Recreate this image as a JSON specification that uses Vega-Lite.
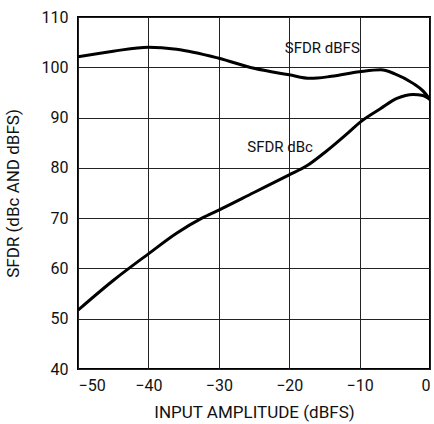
{
  "$schema": "https://vega.github.io/schema/vega-lite/v6.json",
  "width": 352,
  "height": 352,
  "autosize": "none",
  "padding": {"left": 78, "top": 17, "right": 4, "bottom": 55},
  "background": "white",
  "config": {
    "font": "Roboto",
    "view": {"stroke": "#000", "strokeWidth": 2},
    "axis": {
      "domain": false,
      "ticks": false,
      "grid": true,
      "gridColor": "#222",
      "gridWidth": 1,
      "gridOpacity": 1,
      "labelFont": "Roboto",
      "titleFont": "Roboto",
      "labelFontSize": 16,
      "titleFontSize": 17,
      "labelColor": "#111",
      "titleColor": "#111",
      "titleFontWeight": "normal"
    }
  },
  "datasets": {
    "curves": [
      {"series": "dBFS", "x": -50, "y": 102.1},
      {"series": "dBFS", "x": -45, "y": 103.2},
      {"series": "dBFS", "x": -40, "y": 104.0},
      {"series": "dBFS", "x": -36, "y": 103.6},
      {"series": "dBFS", "x": -30, "y": 101.8},
      {"series": "dBFS", "x": -25, "y": 99.8},
      {"series": "dBFS", "x": -20, "y": 98.5},
      {"series": "dBFS", "x": -17, "y": 97.8},
      {"series": "dBFS", "x": -14, "y": 98.2},
      {"series": "dBFS", "x": -10, "y": 99.1},
      {"series": "dBFS", "x": -7, "y": 99.5},
      {"series": "dBFS", "x": -5, "y": 98.7},
      {"series": "dBFS", "x": -2.4, "y": 96.8},
      {"series": "dBFS", "x": -1, "y": 95.3},
      {"series": "dBFS", "x": 0, "y": 93.6},
      {"series": "dBc", "x": -50, "y": 51.7},
      {"series": "dBc", "x": -45, "y": 57.6},
      {"series": "dBc", "x": -40, "y": 62.9},
      {"series": "dBc", "x": -36, "y": 67.0},
      {"series": "dBc", "x": -32.4, "y": 70.0},
      {"series": "dBc", "x": -30, "y": 71.6},
      {"series": "dBc", "x": -25, "y": 75.1},
      {"series": "dBc", "x": -20, "y": 78.6},
      {"series": "dBc", "x": -17.5, "y": 80.4},
      {"series": "dBc", "x": -15, "y": 83.0},
      {"series": "dBc", "x": -11.6, "y": 87.0},
      {"series": "dBc", "x": -10, "y": 89.0},
      {"series": "dBc", "x": -7, "y": 91.8},
      {"series": "dBc", "x": -4.7, "y": 93.8},
      {"series": "dBc", "x": -2.4, "y": 94.6},
      {"series": "dBc", "x": -1, "y": 94.4},
      {"series": "dBc", "x": 0, "y": 93.6}
    ],
    "labels": [
      {"x": -15.3, "y": 103.8, "text": "SFDR dBFS"},
      {"x": -21.3, "y": 84.2, "text": "SFDR dBc"}
    ]
  },
  "layer": [
    {
      "data": {"name": "curves"},
      "mark": {"type": "line", "interpolate": "monotone", "color": "#000", "strokeWidth": 3, "clip": true},
      "encoding": {
        "x": {
          "field": "x", "type": "quantitative",
          "scale": {"domain": [-50, 0], "nice": false},
          "axis": {"values": [-50, -40, -30, -20, -10, 0], "labelExpr": "replace(datum.label, '-', '–')", "labelPadding": 8, "title": "INPUT AMPLITUDE (dBFS)", "titlePadding": 11}
        },
        "y": {
          "field": "y", "type": "quantitative",
          "scale": {"domain": [40, 110], "nice": false, "zero": false},
          "axis": {"values": [40, 50, 60, 70, 80, 90, 100, 110], "labelPadding": 10, "title": "SFDR (dBc AND dBFS)", "titlePadding": 19}
        },
        "detail": {"field": "series"}
      }
    },
    {
      "data": {"name": "labels"},
      "mark": {"type": "text", "font": "Roboto", "fontSize": 15, "color": "#111", "align": "center", "baseline": "middle"},
      "encoding": {
        "x": {"field": "x", "type": "quantitative"},
        "y": {"field": "y", "type": "quantitative"},
        "text": {"field": "text"}
      }
    }
  ]
}
